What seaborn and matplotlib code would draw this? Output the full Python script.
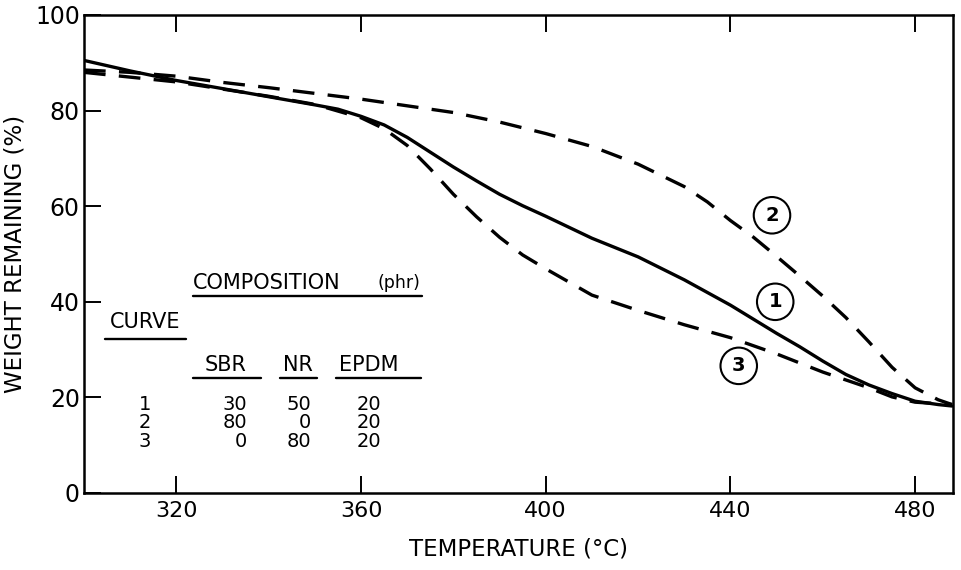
import numpy as np
import pandas as pd
import matplotlib
matplotlib.use("Agg")
import matplotlib.pyplot as plt
from matplotlib.lines import Line2D
import seaborn as sns

# ---- data ----
temp1 = [300, 310, 320, 330, 340, 350, 355, 360, 365, 370, 375, 380, 385, 390, 395, 400,
         410, 420, 430, 440, 450, 455, 460, 465, 470, 475, 480, 485, 488]
curve1 = [90.5, 88.3, 86.3, 84.6, 82.9, 81.2, 80.3, 78.8, 77.0, 74.4, 71.3, 68.2, 65.3, 62.5, 60.1, 57.9,
          53.3, 49.4, 44.6, 39.3, 33.4, 30.6, 27.6, 24.8, 22.6, 20.8, 19.2, 18.5, 18.2]

temp2 = [300, 310, 320, 330, 340, 350, 360, 370, 380, 390, 400, 410, 420, 430, 435, 440,
         445, 450, 455, 460, 465, 470, 475, 480, 485, 488]
curve2 = [88.5, 88.0, 87.2, 85.9, 84.8, 83.6, 82.4, 81.0, 79.6, 77.6, 75.2, 72.5, 68.8, 64.1, 60.9, 57.0,
          53.5, 49.5, 45.4, 41.2, 36.7, 31.6, 26.3, 22.0, 19.5, 18.5]

temp3 = [300, 310, 320, 330, 340, 350, 360, 365, 370, 375, 380, 385, 390, 395, 400,
         410, 420, 430, 440, 450, 460, 470, 475, 480, 488]
curve3 = [88.0, 87.0, 86.0, 84.5, 83.0, 81.3, 78.5, 76.2, 72.7, 67.8, 62.5, 57.8, 53.5, 49.8, 46.9,
          41.4, 38.2, 35.2, 32.5, 29.1, 25.3, 22.0, 20.1, 19.0, 18.5]

curve_ids = ["1", "2", "3"]
label_pos_x = [449.7, 449.0, 441.8]
label_pos_y = [40.0, 58.1, 26.6]

table_rows = ["1", "2", "3"]
sbr = ["30", "80", "0"]
nr = ["50", "0", "80"]
epdm = ["20", "20", "20"]

x_ticks = [320, 360, 400, 440, 480]
y_ticks = [0, 20, 40, 60, 80, 100]

df = pd.concat([
    pd.DataFrame({"T": temp1, "W": curve1, "curve": "1"}),
    pd.DataFrame({"T": temp2, "W": curve2, "curve": "2"}),
    pd.DataFrame({"T": temp3, "W": curve3, "curve": "3"}),
], ignore_index=True)

sns.set_theme(style="ticks")
plt.rcParams["font.family"] = ["DejaVu Sans"]
plt.rcParams["text.color"] = "black"
plt.rcParams["axes.labelcolor"] = "black"
plt.rcParams["xtick.color"] = "black"
plt.rcParams["ytick.color"] = "black"

W, H = 961, 570
fig = plt.figure(figsize=(W / 100, H / 100), dpi=100)
ax = fig.add_axes([84 / W, 1 - 493 / H, (953 - 84) / W, (493 - 15) / H])

sns.lineplot(data=df, x="T", y="W", hue="curve", style="curve",
             palette={"1": "black", "2": "black", "3": "black"},
             dashes={"1": "", "2": (6.5, 4.0), "3": (6.5, 4.0)},
             linewidth=2.4, legend=False, ax=ax, sort=False, estimator=None)

ax.set_xlim(300, 488.2)
ax.set_ylim(0, 100)
ax.set_xticks(x_ticks)
ax.set_yticks(y_ticks)
ax.tick_params(axis="both", direction="in", length=12, width=1.4, colors="black",
               labelcolor="black", labelsize=16, pad=6)
ax.tick_params(axis="x", top=True, bottom=True)
ax.tick_params(axis="y", left=True, right=False, labelsize=17, pad=3)
for s in ax.spines.values():
    s.set_linewidth(1.8)
    s.set_color("black")
    s.set_visible(True)

ax.set_xlabel("TEMPERATURE (°C)", fontsize=16.5, labelpad=12, color="black")
ax.set_ylabel("WEIGHT REMAINING (%)", fontsize=16.5, labelpad=6, color="black")

# circled curve labels
for cid, lx, ly in zip(curve_ids, label_pos_x, label_pos_y):
    ax.text(lx, ly, cid, fontsize=14, ha="center", va="center", fontweight="bold",
            color="black",
            bbox=dict(boxstyle="circle,pad=0.45", fc="white", ec="black", lw=1.5))

# composition table (figure pixel coordinates)
def fx(px):
    return px / W

def fy(py):
    return 1 - py / H

def hline(x0, x1, py):
    fig.add_artist(Line2D([fx(x0), fx(x1)], [fy(py), fy(py)], color="black", lw=1.7,
                          transform=fig.transFigure))

fs = 15
fig.text(fx(193), fy(283), "COMPOSITION", fontsize=fs, ha="left", va="center")
fig.text(fx(420), fy(283), "(phr)", fontsize=12.5, ha="right", va="center")
hline(193, 422, 296)
fig.text(fx(145), fy(322), "CURVE", fontsize=fs, ha="center", va="center")
hline(105, 186, 339)
fig.text(fx(226), fy(365), "SBR", fontsize=fs, ha="center", va="center")
hline(193, 261, 378)
fig.text(fx(298), fy(365), "NR", fontsize=fs, ha="center", va="center")
hline(280, 317, 378)
fig.text(fx(369), fy(365), "EPDM", fontsize=fs, ha="center", va="center")
hline(336, 421, 378)

# table body: one multi-line text per column
fsb = 14
ls = 0.94
mid_y = 423
fig.text(fx(145), fy(mid_y), "\n".join(table_rows), fontsize=fsb, ha="center", va="center",
         multialignment="center", linespacing=ls)
fig.text(fx(247), fy(mid_y), "\n".join(sbr), fontsize=fsb, ha="right", va="center",
         multialignment="right", linespacing=ls)
fig.text(fx(311), fy(mid_y), "\n".join(nr), fontsize=fsb, ha="right", va="center",
         multialignment="right", linespacing=ls)
fig.text(fx(381), fy(mid_y), "\n".join(epdm), fontsize=fsb, ha="right", va="center",
         multialignment="right", linespacing=ls)

fig.savefig("out.png", dpi=100, facecolor="white")
